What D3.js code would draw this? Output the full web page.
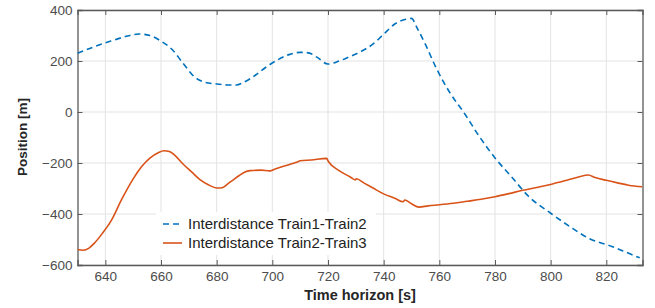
<!DOCTYPE html>
<html><head><meta charset="utf-8">
<script src="https://cdn.jsdelivr.net/npm/d3@7"></script>
<style>body{margin:0;background:#fff}svg{display:block}</style>
</head><body><svg id="c" width="655" height="308"></svg>
<script>
const xTicks = [640, 660, 680, 700, 720, 740, 760, 780, 800, 820];
const yTicks = [-600, -400, -200, 0, 200, 400];
const seriesNames = ["Interdistance Train1-Train2", "Interdistance Train2-Train3"];
const blueT = [630,636,642,648,652,656,660,664,668,672,676,680,684,687,690,694,698,702,706,710,713,716,720,724,728,732,736,740,744,748,750,752,755,759,764,769,774,780,786,792,800,807,814,822,826,832];
const blueV = [230,256,278,298,306,300,278,245,190,138,116,110,106,106,118,145,178,205,225,234,232,215,188,200,218,238,265,305,345,364,367,330,265,170,72,-5,-90,-180,-255,-330,-397,-450,-497,-527,-545,-572];
const orangeT = [630,632,634,636,639,642,646,650,653,656,659,661,663,665,668,671,674,677,680,682,684,686,688,690,692,696,699,700,701,704,707,709,710,714,719.5,720.2,724,728,729.8,730.2,733,736,740,744,747,747.6,750,752.7,756,760,765,770,775,780,785,790,795,800,805,810,813.5,816,820,824,828,833];
const orangeV = [-539,-542,-535,-515,-475,-428,-340,-262,-215,-181,-160,-152,-155,-170,-205,-235,-265,-285,-298,-297,-282,-266,-250,-236,-230,-228,-231,-228,-224,-213,-203,-196,-191,-188,-182,-195,-230,-255,-266,-262,-279,-297,-321,-338,-352,-345,-360,-373,-368,-364,-358,-350,-342,-332,-320,-307,-296,-284,-270,-255,-247,-257,-268,-278,-287,-293];

const svg = d3.select("#c");
const L = 77.5, R = 642.5, T = 10, B = 265;
const x = d3.scaleLinear().domain([630, 833]).range([L, R]);
const y = d3.scaleLinear().domain([-600, 400]).range([B, T]);
const axisCol = "#5a5a5a", textCol = "#4d4d4d";

// grid
const g = svg.append("g");
g.selectAll(".gx").data(xTicks).enter().append("line")
  .attr("x1", d => x(d)).attr("x2", d => x(d)).attr("y1", T).attr("y2", B)
  .attr("stroke", "#e3e3e3").attr("stroke-width", 1);
g.selectAll(".gy").data(yTicks).enter().append("line")
  .attr("x1", L).attr("x2", R).attr("y1", d => y(d)).attr("y2", d => y(d))
  .attr("stroke", "#e3e3e3").attr("stroke-width", 1);

// axes (ticks inside)
const fontFam = "'Liberation Sans', Arial, sans-serif";
const xb = svg.append("g").attr("transform", `translate(0,${B})`)
  .call(d3.axisBottom(x).tickValues(xTicks).tickSize(-5).tickPadding(6).tickFormat(d3.format("d")));
const xt = svg.append("g").attr("transform", `translate(0,${T})`)
  .call(d3.axisTop(x).tickValues(xTicks).tickSize(-5).tickFormat(""));
const yl = svg.append("g").attr("transform", `translate(${L},0)`)
  .call(d3.axisLeft(y).tickValues(yTicks).tickSize(-5).tickPadding(5).tickFormat(d3.format("d")));
const yr = svg.append("g").attr("transform", `translate(${R},0)`)
  .call(d3.axisRight(y).tickValues(yTicks).tickSize(-5).tickFormat(""));
[xb, xt, yl, yr].forEach(a => {
  a.select(".domain").attr("stroke", axisCol).attr("stroke-width", 1.3);
  a.selectAll(".tick line").attr("stroke", axisCol).attr("stroke-width", 1);
  a.selectAll("text").attr("fill", textCol).style("font-family", fontFam).style("font-size", "13.5px");
});
yl.selectAll(".tick text").attr("dy", "0.36em");

// lines
const line = d3.line().x(d => x(d[0])).y(d => y(d[1])).curve(d3.curveMonotoneX);
const clip = svg.append("clipPath").attr("id", "cl").append("rect")
  .attr("x", L).attr("y", T).attr("width", R - L).attr("height", B - T);
svg.append("path").datum(blueT.map((t, i) => [t, blueV[i]]))
  .attr("d", line).attr("fill", "none").attr("stroke", "#0072BD")
  .attr("stroke-width", 1.6).attr("stroke-dasharray", "6,4").attr("clip-path", "url(#cl)");
svg.append("path").datum(orangeT.map((t, i) => [t, orangeV[i]]))
  .attr("d", line).attr("fill", "none").attr("stroke", "#D95319")
  .attr("stroke-width", 1.6).attr("clip-path", "url(#cl)");

// legend
const lg = svg.append("g");
lg.append("rect").attr("x", 156).attr("y", 212).attr("width", 220).attr("height", 43).attr("fill", "#fff");
const cols = ["#0072BD", "#D95319"], dashes = ["6,4", null];
seriesNames.forEach((n, i) => {
  const yy = 224 + i * 19;
  lg.append("line").attr("x1", 163).attr("x2", 182).attr("y1", yy).attr("y2", yy)
    .attr("stroke", cols[i]).attr("stroke-width", 1.6).attr("stroke-dasharray", dashes[i]);
  lg.append("text").attr("x", 188).attr("y", yy + 5).text(n)
    .attr("fill", "#222").style("font-family", fontFam).style("font-size", "15px");
});

// axis titles
svg.append("text").attr("x", (L + R) / 2).attr("y", 300).attr("text-anchor", "middle")
  .text("Time horizon [s]").attr("fill", "#262626").style("font-family", fontFam)
  .style("font-size", "14.5px").style("font-weight", "bold");
svg.append("text").attr("transform", "translate(27,137) rotate(-90)").attr("text-anchor", "middle")
  .text("Position [m]").attr("fill", "#262626").style("font-family", fontFam)
  .style("font-size", "13.5px").style("font-weight", "bold");
</script></body></html>
